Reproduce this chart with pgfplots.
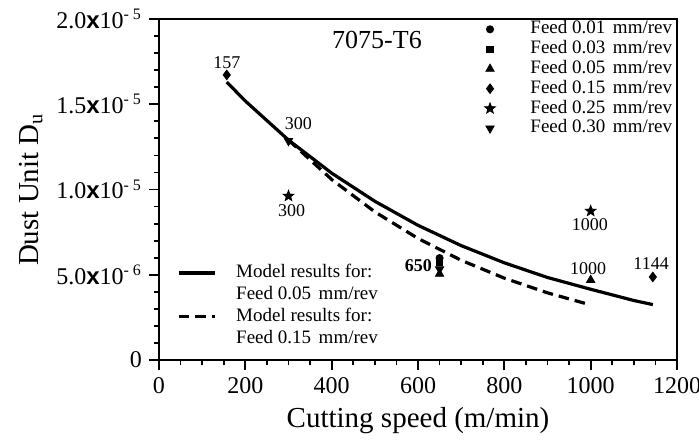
\documentclass[border=0pt]{standalone}
\usepackage{fontspec}
\setmainfont{Liberation Serif}
\setsansfont{Liberation Sans}
\usepackage{pgfplots}
\pgfplotsset{compat=1.18}

% filled five-pointed star
\pgfdeclareplotmark{fstar}{%
  \pgfpathmoveto{\pgfpointpolar{90}{\pgfplotmarksize}}%
  \pgfpathlineto{\pgfpointpolar{126}{0.42\pgfplotmarksize}}%
  \pgfpathlineto{\pgfpointpolar{162}{\pgfplotmarksize}}%
  \pgfpathlineto{\pgfpointpolar{198}{0.42\pgfplotmarksize}}%
  \pgfpathlineto{\pgfpointpolar{234}{\pgfplotmarksize}}%
  \pgfpathlineto{\pgfpointpolar{270}{0.42\pgfplotmarksize}}%
  \pgfpathlineto{\pgfpointpolar{306}{\pgfplotmarksize}}%
  \pgfpathlineto{\pgfpointpolar{342}{0.42\pgfplotmarksize}}%
  \pgfpathlineto{\pgfpointpolar{18}{\pgfplotmarksize}}%
  \pgfpathlineto{\pgfpointpolar{54}{0.42\pgfplotmarksize}}%
  \pgfpathclose
  \pgfusepathqfillstroke
}
\newcommand{\tx}{{\sffamily\bfseries x}}
\newcommand{\lbl}{\fontsize{9}{9}\selectfont}

\begin{document}
\begin{tikzpicture}

%% main axis: ticks, measured points, feed legend
\begin{axis}[
  scale only axis,
  width=259pt, height=170.5pt,
  xmin=0, xmax=1200, ymin=0, ymax=2e-5,
  axis line style={line width=0.9pt},
  every tick/.style={black, line width=0.9pt},
  tick align=outside, tick pos=left,
  major tick length=5pt, minor tick length=2.7pt,
  xtick={0,200,...,1200}, minor x tick num=3,
  ytick={0,5e-6,1e-5,1.5e-5,2e-5}, minor y tick num=4,
  scaled y ticks=false,
  yticklabels={0, 5.0\tx10\textsuperscript{- 6}, 1.0\tx10\textsuperscript{- 5},
               1.5\tx10\textsuperscript{- 5}, 2.0\tx10\textsuperscript{- 5}},
  /pgf/number format/assume math mode=true,
  /pgf/number format/set thousands separator={},
  ticklabel style={font=\fontsize{12}{12}\selectfont},
  xlabel={Cutting speed (m/min)},
  ylabel={Dust Unit D\textsubscript{u}},
  label style={font=\fontsize{14.5}{15}\selectfont},
  clip=false,
  legend cell align=left,
  legend style={at={(rel axis cs:0.628,0.995)}, anchor=north west,
    draw=none, fill=none, inner sep=0pt, row sep=1.7pt,
    font=\fontsize{9.5}{9.5}\selectfont,
    nodes={inner xsep=0pt, inner ysep=0pt, text height=6.4pt, text depth=1.8pt}},
  legend image code/.code={\draw[#1,only marks] plot coordinates {(0pt,0pt)}; \path (0pt,0pt) (20pt,0pt);},
]
\addplot[only marks, mark=*, mark size=1.8pt, black] coordinates {(650,5.98e-6)};
\addlegendentry{Feed 0.01\hspace{0.4em}mm/rev}
\addplot[only marks, mark=square*, mark size=1.6pt, black] coordinates {(650,5.72e-6)};
\addlegendentry{Feed 0.03\hspace{0.4em}mm/rev}
\addplot[only marks, mark=triangle*, mark size=2.4pt, black] coordinates {(650,5.05e-6) (1000,4.69e-6)};
\addlegendentry{Feed 0.05\hspace{0.4em}mm/rev}
\addplot[only marks, mark=diamond*, mark size=2.4pt, black] coordinates {(157,1.672e-5) (1144,4.87e-6)};
\addlegendentry{Feed 0.15\hspace{0.4em}mm/rev}
\addplot[only marks, mark=fstar, mark size=2.8pt, black] coordinates {(300,9.62e-6) (1000,8.74e-6)};
\addlegendentry{Feed 0.25\hspace{0.4em}mm/rev}
\addplot[only marks, mark=triangle*, mark size=2.4pt, mark options={rotate=180}, black] coordinates {(300,1.285e-5) (650,5.33e-6)};
\addlegendentry{Feed 0.30\hspace{0.4em}mm/rev}

% point labels
\node[font=\lbl] at (axis cs:157,1.742e-5) {157};
\node[font=\lbl] at (axis cs:323,1.387e-5) {300};
\node[font=\lbl] at (axis cs:307,8.74e-6) {300};
\node[font=\lbl\bfseries] at (axis cs:601,5.51e-6) {650};
\node[font=\lbl] at (axis cs:998,7.95e-6) {1000};
\node[font=\lbl] at (axis cs:994,5.38e-6) {1000};
\node[font=\lbl] at (axis cs:1140,5.67e-6) {1144};
\node[font=\fontsize{13}{13}\selectfont] at (axis cs:505,1.877e-5) {7075-T6};
\end{axis}

%% overlay axis: model curves and their legend
\begin{axis}[
  scale only axis,
  width=259pt, height=170.5pt,
  xmin=0, xmax=1200, ymin=0, ymax=2e-5,
  hide axis,
  legend cell align=left,
  legend style={at={(rel axis cs:0.034,0.283)}, anchor=north west,
    draw=none, fill=none, inner sep=0pt, row sep=1.9pt,
    font=\fontsize{9.5}{9.5}\selectfont,
    nodes={inner xsep=0pt, inner ysep=0pt, text height=7pt, text depth=2pt}},
  legend image code/.code={\draw[#1] (0pt,0pt) -- (18.3pt,0pt); \path (28pt,0pt);},
]
\addplot[black, line width=1.6pt] coordinates {
  (157,16.30e-6) (200,15.19e-6) (300,12.90e-6) (400,10.96e-6) (500,9.31e-6)
  (600,7.90e-6) (700,6.71e-6) (800,5.70e-6) (900,4.84e-6) (1000,4.15e-6)
  (1100,3.49e-6) (1144,3.25e-6)
};
\addlegendentry{Model results for:}
\addlegendimage{empty legend}
\addlegendentry{Feed 0.05\hspace{0.4em}mm/rev}
\addplot[black, line width=1.6pt, dash pattern=on 5.3pt off 3pt] coordinates {
  (300,12.90e-6) (400,10.59e-6) (500,8.69e-6) (600,7.13e-6) (700,5.85e-6)
  (800,4.80e-6) (900,3.94e-6) (990,3.30e-6)
};
\addlegendentry{Model results for:}
\addlegendimage{empty legend}
\addlegendentry{Feed 0.15\hspace{0.4em}mm/rev}
\end{axis}

\pgfresetboundingbox
\path (-79.5pt,-40.5pt) rectangle (270pt,180pt);
\end{tikzpicture}
\end{document}
